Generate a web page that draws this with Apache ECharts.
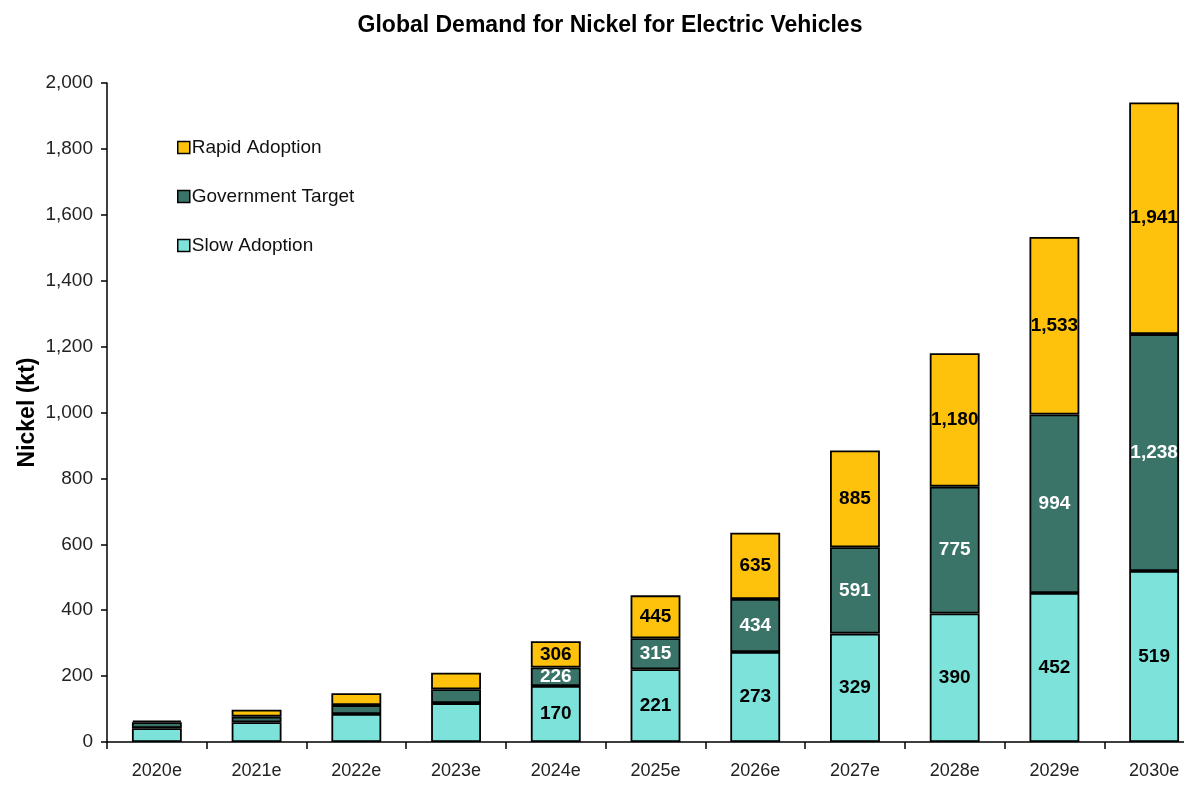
<!DOCTYPE html>
<html>
<head>
<meta charset="utf-8">
<script src="https://cdn.jsdelivr.net/npm/echarts@6/dist/echarts.min.js"></script>
<style>
  html, body { margin: 0; padding: 0; background: #fff; overflow: hidden; }
  /* plot runs past the right edge of the window, as in the reference */
  #container { width: 1204px; height: 787px; }
</style>
</head>
<body>
<div id="container"></div>
<script>
// categories and cumulative values (kt) as labelled on the chart
var years = ['2020e', '2021e', '2022e', '2023e', '2024e', '2025e', '2026e', '2027e', '2028e', '2029e', '2030e'];
var slowAdoption = [42, 60, 85, 118, 170, 221, 273, 329, 390, 452, 519];
var governmentTarget = [60, 77, 112, 160, 226, 315, 434, 591, 775, 994, 1238];
var rapidAdoption = [65, 98, 148, 210, 306, 445, 635, 885, 1180, 1533, 1941];
var yTicks = [0, 200, 400, 600, 800, 1000, 1200, 1400, 1600, 1800, 2000];

var firstLabelled = 4; // labels only from 2024e

var dom = document.getElementById('container');
var myChart = echarts.init(dom, null, { renderer: 'canvas' });

function fmt(v) {
  return v.toString().replace(/\B(?=(\d{3})+(?!\d))/g, ',');
}

// stacked segments = difference between the cumulative series
function seg(top, bottom) {
  return top.map(function (v, i) {
    return { value: bottom ? v - bottom[i] : v, total: v };
  });
}

function labelFor(color) {
  return {
    show: true,
    position: 'inside',
    color: color,
    fontFamily: 'Liberation Sans, Arial',
    fontWeight: 'bold',
    fontSize: 19,
    formatter: function (p) {
      return p.dataIndex >= firstLabelled ? fmt(p.data.total) : '';
    }
  };
}

var barStyle = { borderColor: '#000', borderWidth: 1.8 };

var option = {
  backgroundColor: '#fff',
  animation: false,
  title: {
    text: 'Global Demand for Nickel for Electric Vehicles',
    left: 605,
    textAlign: 'center',
    top: 9,
    textStyle: {
      fontFamily: 'Liberation Sans, Arial',
      fontWeight: 'bold',
      fontSize: 23,
      color: '#000'
    }
  },
  legend: {
    orient: 'vertical',
    left: 172,
    top: 133,
    itemGap: 30,
    itemWidth: 12,
    itemHeight: 12,
    icon: 'rect',
    data: ['Rapid Adoption', 'Government Target', 'Slow Adoption'],
    textStyle: { fontFamily: 'Liberation Sans, Arial', fontSize: 19, color: '#111', padding: [0, 0, 0, -3] },
    itemStyle: { borderColor: '#000', borderWidth: 1.5 }
  },
  grid: {
    left: 107,
    top: 83,
    right: 0,
    bottom: 45,
    containLabel: false
  },
  xAxis: {
    type: 'category',
    data: years,
    axisLine: { lineStyle: { color: '#000', width: 1.5 } },
    axisTick: { show: true, length: 7, lineStyle: { color: '#000', width: 1.5 } },
    axisLabel: {
      margin: 20,
      fontFamily: 'Liberation Sans, Arial',
      fontSize: 18,
      color: '#222'
    }
  },
  yAxis: {
    type: 'value',
    min: 0,
    max: 2000,
    interval: 200,
    name: 'Nickel (kt)',
    nameLocation: 'middle',
    nameGap: 68,
    nameMoveOverlap: false,
    nameRotate: 90,
    nameTextStyle: {
      fontFamily: 'Liberation Sans, Arial',
      fontWeight: 'bold',
      fontSize: 23,
      color: '#000'
    },
    splitLine: { show: false },
    axisLine: { show: true, lineStyle: { color: '#000', width: 1.5 } },
    axisTick: { show: true, length: 6, lineStyle: { color: '#000', width: 1.5 } },
    axisLabel: {
      margin: 14,
      fontFamily: 'Liberation Sans, Arial',
      fontSize: 19,
      color: '#222',
      formatter: function (v) { return yTicks.indexOf(v) >= 0 ? fmt(v) : ''; }
    }
  },
  series: [
    {
      name: 'Slow Adoption',
      type: 'bar',
      stack: 'total',
      barWidth: '50%',
      data: seg(slowAdoption),
      itemStyle: Object.assign({ color: '#7de3da' }, barStyle),
      label: labelFor('#000')
    },
    {
      name: 'Government Target',
      type: 'bar',
      stack: 'total',
      data: seg(governmentTarget, slowAdoption),
      itemStyle: Object.assign({ color: '#3a7469' }, barStyle),
      label: labelFor('#fff')
    },
    {
      name: 'Rapid Adoption',
      type: 'bar',
      stack: 'total',
      data: seg(rapidAdoption, governmentTarget),
      itemStyle: Object.assign({ color: '#fec20c' }, barStyle),
      label: labelFor('#000')
    }
  ]
};

myChart.setOption(option);

window.addEventListener('resize', function () {
  myChart.resize();
});
</script>
</body>
</html>
